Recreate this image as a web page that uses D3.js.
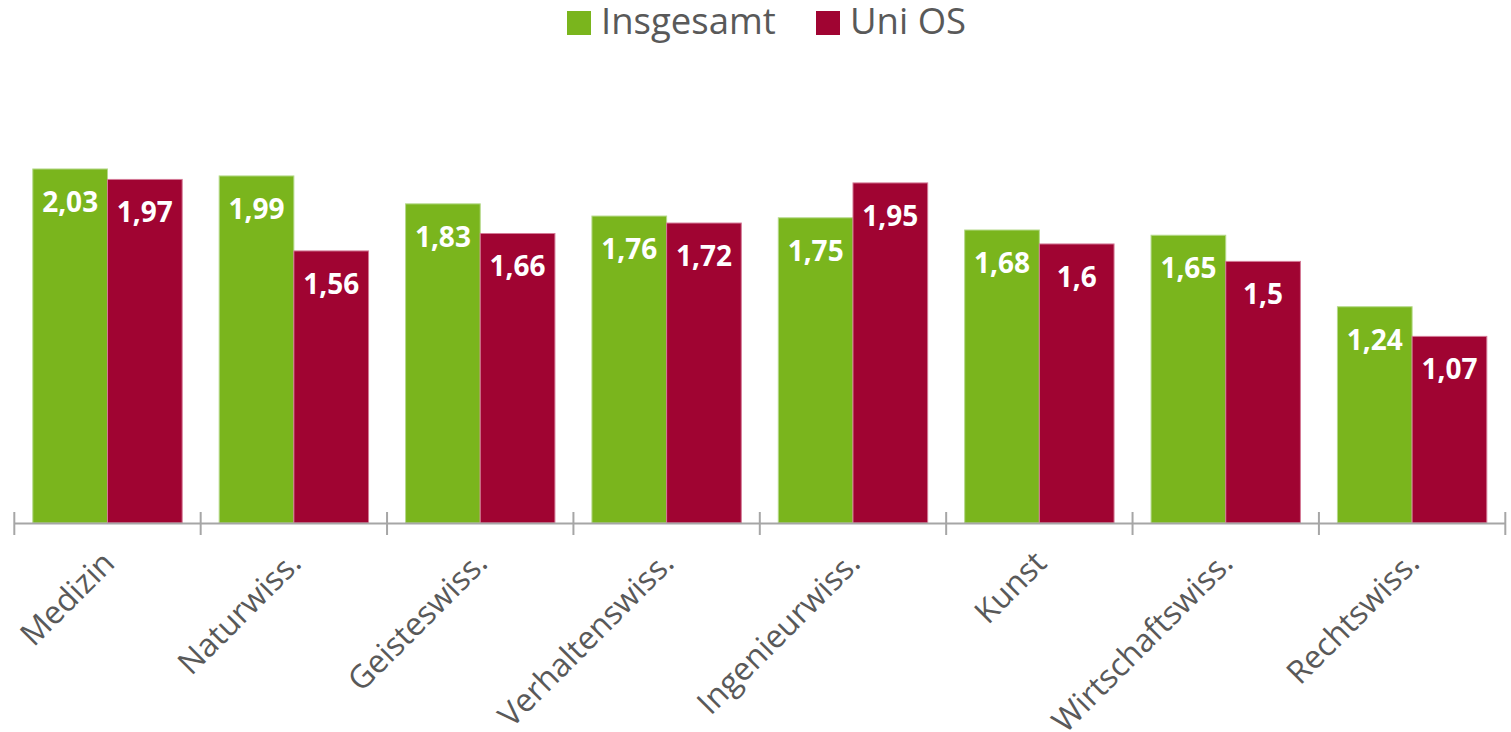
<!DOCTYPE html>
<html>
<head>
<meta charset="utf-8">
<script src="https://cdn.jsdelivr.net/npm/d3@7"></script>
<style>
  body { margin: 0; background: #fff; }
  svg { display: block; font-family: "Open Sans", sans-serif; }
  .legend text { fill: #595959; font-size: 36.5px; }
  .axis-label { fill: #595959; font-size: 32px; }
  .value { fill: #fff; font-size: 28px; font-weight: bold; text-anchor: middle; }
</style>
</head>
<body>
<svg width="1511" height="732"></svg>
<script>
// categories and values
const categories = ["Medizin", "Naturwiss.", "Geisteswiss.", "Verhaltenswiss.", "Ingenieurwiss.", "Kunst", "Wirtschaftswiss.", "Rechtswiss."]
const insgesamt = [2.03, 1.99, 1.83, 1.76, 1.75, 1.68, 1.65, 1.24]
const uniOS = [1.97, 1.56, 1.66, 1.72, 1.95, 1.6, 1.5, 1.07]
const seriesNames = ["Insgesamt", "Uni OS"]
const colors = ["#7ab51d", "#a00432"]
const strokes = ["#b5d98a", "#d47a96"]

const svg = d3.select("svg")

const data = categories.map((c, i) => {
  return { cat: c, values: [insgesamt[i], uniOS[i]] }
})

// scales
const x = d3.scaleBand()
  .domain(categories)
  .range([14.3, 1505.3])
  .paddingInner(0)
  .paddingOuter(0)

const inner = d3.scaleBand()
  .domain([0, 1])
  .range([18.5, x.bandwidth() - 18.5])

const y = d3.scaleLinear()
  .domain([0, 2.5])
  .range([523, 87])

// bars
const groups = svg.selectAll("g.cat")
  .data(data)
  .enter()
  .append("g")
  .attr("class", "cat")
  .attr("transform", d => `translate(${x(d.cat)},0)`)

groups.selectAll("rect")
  .data(d => d.values)
  .enter()
  .append("rect")
  .attr("x", (d, i) => inner(i))
  .attr("y", d => y(d))
  .attr("width", inner.bandwidth())
  .attr("height", d => y(0) - y(d))
  .attr("fill", (d, i) => colors[i])
  .attr("stroke", (d, i) => strokes[i])
  .attr("stroke-width", 1)

// value labels
groups.selectAll("text.value")
  .data(d => d.values)
  .enter()
  .append("text")
  .attr("class", "value")
  .attr("x", (d, i) => inner(i) + inner.bandwidth() / 2)
  .attr("y", d => y(d) + 43)
  .text(d => String(d).replace(".", ","))

// x axis with ticks between categories
const axis = svg.append("g").attr("class", "axis")
axis.append("line")
  .attr("x1", x.range()[0])
  .attr("x2", x.range()[1])
  .attr("y1", y(0) + 0.5)
  .attr("y2", y(0) + 0.5)
  .attr("stroke", "#a6a6a6")
  .attr("stroke-width", 2)

const tickPos = categories.map(c => x(c)).concat([x.range()[1]])
axis.selectAll("line.tick")
  .data(tickPos)
  .enter()
  .append("line")
  .attr("class", "tick")
  .attr("x1", d => d)
  .attr("x2", d => d)
  .attr("y1", y(0) - 11)
  .attr("y2", y(0) + 12)
  .attr("stroke", "#a6a6a6")
  .attr("stroke-width", 2)

axis.selectAll("text")
  .data(categories)
  .enter()
  .append("text")
  .attr("class", "axis-label")
  .attr("text-anchor", "end")
  .attr("transform", d => `translate(${x(d) + x.bandwidth() / 2 + 9},${y(0) + 42}) rotate(-45)`)
  .text(d => d)

// legend
const legend = svg.append("g").attr("class", "legend")
const legendX = [567, 816]
seriesNames.forEach((name, i) => {
  legend.append("rect")
    .attr("x", legendX[i])
    .attr("y", 11)
    .attr("width", 24)
    .attr("height", 24)
    .attr("fill", colors[i])
  legend.append("text")
    .attr("x", legendX[i] + 34)
    .attr("y", 34)
    .text(name)
})
</script>
</body>
</html>
